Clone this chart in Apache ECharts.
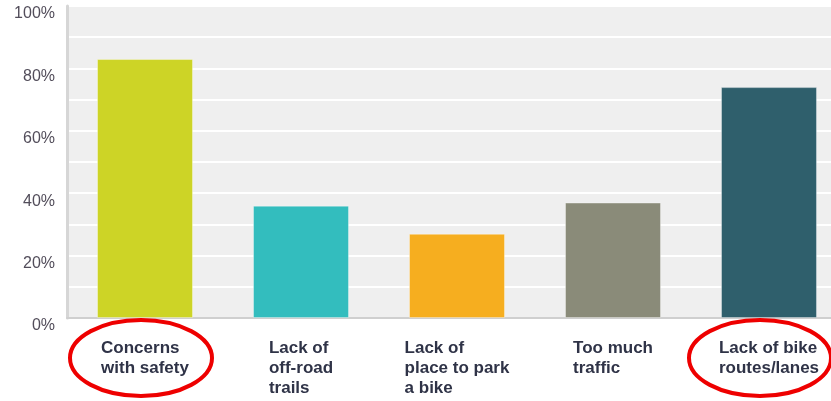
<!DOCTYPE html>
<html>
<head>
<meta charset="utf-8">
<script src="https://cdn.jsdelivr.net/npm/echarts@6/dist/echarts.min.js"></script>
<style>
  html, body { margin: 0; padding: 0; background: #ffffff; overflow: hidden; }
  /* the plot runs on past the right edge of the page */
  #chart { width: 847px; height: 401px; }
</style>
</head>
<body>
<div id="chart"></div>
<script>
// Barriers to cycling: share of respondents (%)
const categories = [
  'Concerns\nwith safety',
  'Lack of\noff-road\ntrails',
  'Lack of\nplace to park\na bike',
  'Too much\ntraffic',
  'Lack of bike\nroutes/lanes'
];
const shares = [83, 36, 27, 37, 74];
const barColors = ['#cdd426', '#33bdbe', '#f6ae1f', '#8a8b79', '#2f5f6c'];
// categories circled in red
const highlighted = ['Concerns\nwith safety', 'Lack of bike\nroutes/lanes'];

const chart = echarts.init(document.getElementById('chart'), null, { renderer: 'canvas' });

chart.setOption({
  animation: false,
  grid: {
    left: 67, top: 6, right: 0, height: 312,
    show: true, backgroundColor: '#efefef', borderWidth: 0,
    containLabel: false
  },
  xAxis: {
    type: 'category',
    data: categories,
    axisLine: { show: true, lineStyle: { color: '#cfcfcf', width: 2 } },
    axisTick: { show: false },
    axisLabel: {
      interval: 0,
      margin: 20,
      align: 'center',
      verticalAlign: 'top',
      // centred block, lines flush left
      formatter: v => v.split('\n').map(s => '{l|' + s + '}').join('\n'),
      rich: {
        l: {
          align: 'left',
          fontFamily: '"Liberation Sans", Arial, sans-serif',
          fontSize: 17,
          fontWeight: 'bold',
          lineHeight: 20,
          color: '#2f3347'
        }
      }
    },
    splitLine: { show: false }
  },
  yAxis: {
    type: 'value',
    min: 0, max: 100, interval: 20,
    axisLine: { show: true, lineStyle: { color: '#d6d6d6', width: 3 } },
    axisTick: { show: false },
    axisLabel: {
      formatter: '{value}%',
      margin: 12,
      verticalAlign: 'top',
      lineHeight: 16,
      fontFamily: '"Liberation Sans", Arial, sans-serif',
      fontSize: 16,
      color: '#524d5a'
    },
    splitLine: { show: true, lineStyle: { color: '#ffffff', width: 2 } },
    minorTick: { show: false, splitNumber: 2 },
    minorSplitLine: { show: true, lineStyle: { color: '#ffffff', width: 2 } }
  },
  series: [{
    type: 'bar',
    barWidth: '61.5%',
    data: shares.map((v, i) => ({
      value: v,
      itemStyle: { color: barColors[i], borderColor: 'rgba(255,255,255,0.35)', borderWidth: 1 }
    }))
  }]
});

// red rings around the highlighted category labels
const ringOffsets = [-4, -9];
chart.setOption({
  graphic: highlighted.map((c, i) => {
    const cx = chart.convertToPixel({ xAxisIndex: 0 }, c) + ringOffsets[i];
    return {
      type: 'ellipse',
      shape: { cx: cx, cy: 358, rx: 71, ry: 38 },
      style: { fill: null, stroke: '#ee0000', lineWidth: 4 },
      z: 100
    };
  })
});
</script>
</body>
</html>
